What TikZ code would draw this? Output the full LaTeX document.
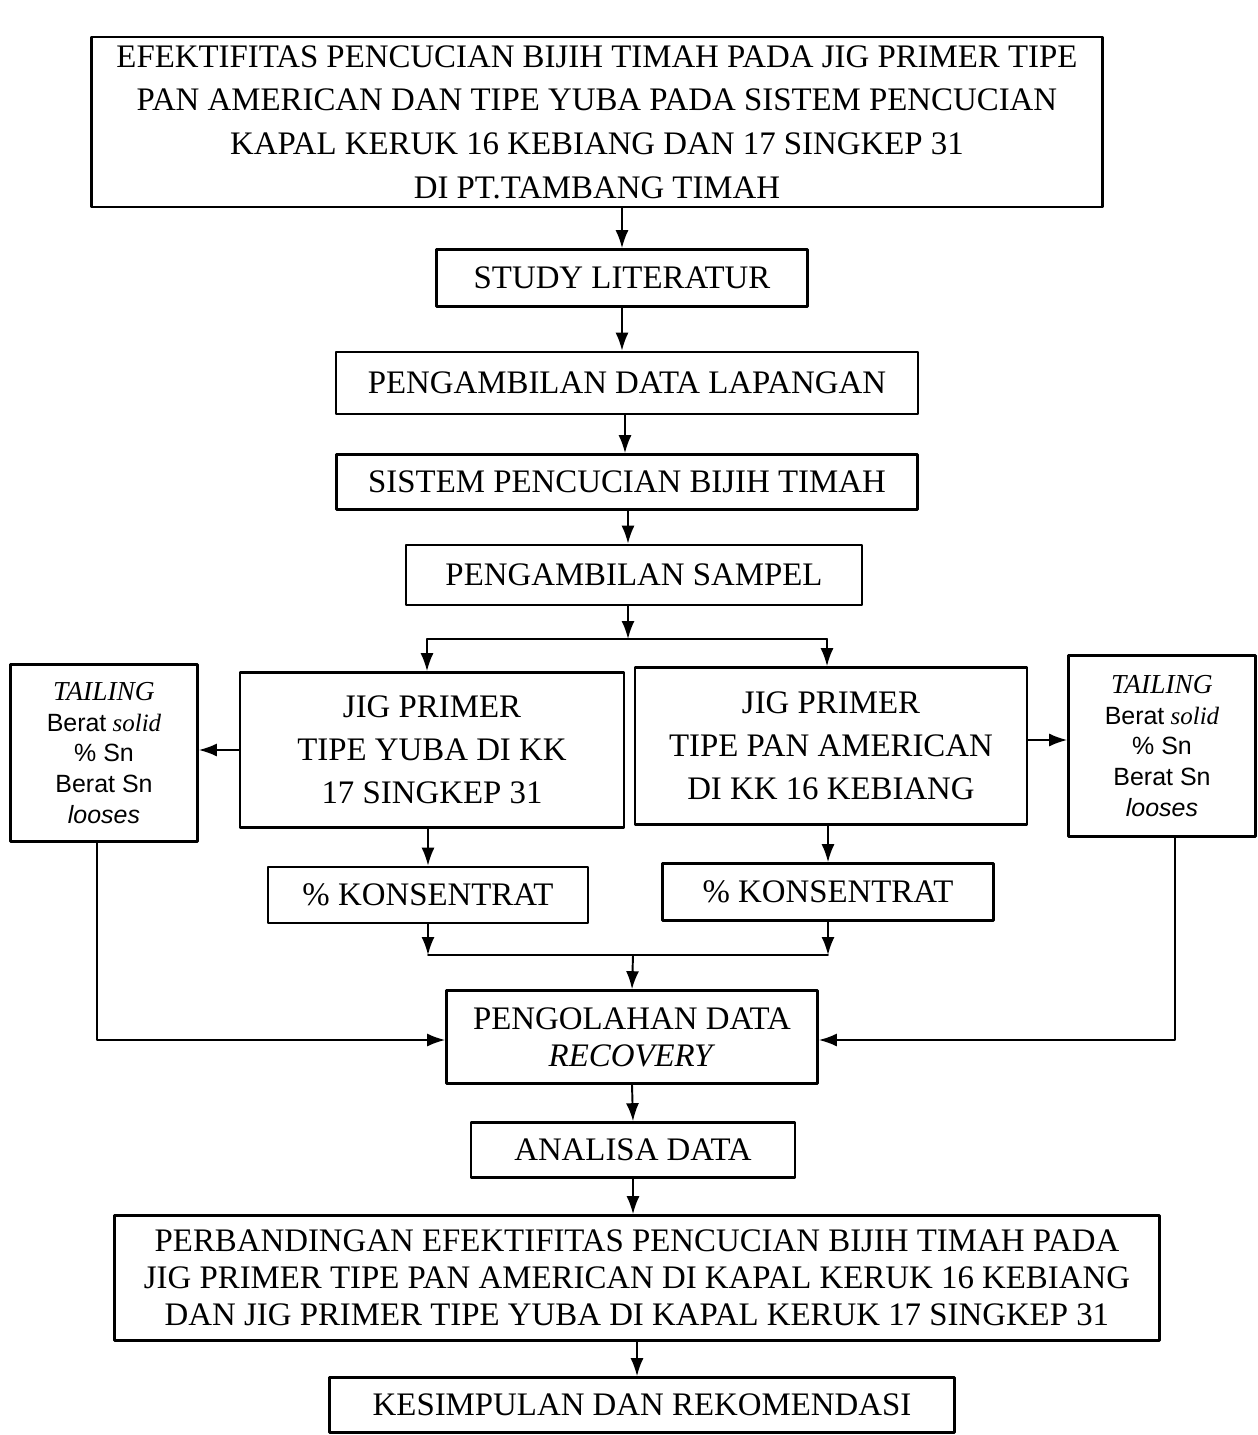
\documentclass[tikz,border=0pt]{standalone}
\usepackage{fontspec}
\setmainfont{Liberation Serif}
\newfontfamily\arialfont{Liberation Sans}
\usetikzlibrary{arrows.meta}

\begin{document}
\begin{tikzpicture}[line cap=round,line join=round,
  box/.style={draw,line width=1.5pt,align=center,inner sep=0pt,font=\fontsize{18.7}{21}\selectfont},
  tailbox/.style={draw,line width=1.5pt,align=center,inner sep=0pt,minimum width=3.74cm,font=\fontsize{14.2}{17.6}\selectfont},
  arr/.style={line width=1.1pt,-{Latex[length=0.36cm,width=0.26cm]}},
  ln/.style={line width=1.1pt}]
  \useasboundingbox (0,0) rectangle (25.14,-28.7);
  \node[box,minimum width=20.22cm,minimum height=3.4cm,font=\fontsize{18.7}{24.9}\selectfont] (judul) at (11.94,-2.44)
    {EFEKTIFITAS PENCUCIAN BIJIH TIMAH PADA JIG PRIMER TIPE\\PAN AMERICAN DAN TIPE YUBA PADA SISTEM PENCUCIAN\\KAPAL KERUK 16 KEBIANG DAN 17 SINGKEP 31\\DI PT.TAMBANG TIMAH};
  \node[box,minimum width=7.42cm,minimum height=1.14cm] (studi) at (12.44,-5.56) {STUDY LITERATUR};
  \node[box,minimum width=11.64cm,minimum height=1.24cm] (lapangan) at (12.54,-7.66) {PENGAMBILAN DATA LAPANGAN};
  \node[box,minimum width=11.62cm,minimum height=1.1cm] (sistem) at (12.54,-9.64) {SISTEM PENCUCIAN BIJIH TIMAH};
  \node[box,minimum width=9.12cm,minimum height=1.2cm] (sampel) at (12.68,-11.5) {PENGAMBILAN SAMPEL};
  \node[box,minimum width=7.68cm,minimum height=3.1cm,font=\fontsize{18.7}{24.4}\selectfont] (yuba) at (8.64,-15.0)
    {JIG PRIMER\\TIPE YUBA DI KK\\17 SINGKEP 31};
  \node[box,minimum width=7.84cm,minimum height=3.14cm,font=\fontsize{18.7}{24.4}\selectfont] (panam) at (16.62,-14.92)
    {JIG PRIMER\\TIPE PAN AMERICAN\\DI KK 16 KEBIANG};
  \node[tailbox,minimum height=3.54cm] (tailkiri) at (2.08,-15.06)
    {{\fontsize{15.6}{17.6}\selectfont\textit{TAILING}}\\{\arialfont Berat} \textit{solid}\\{\arialfont \% Sn}\\{\arialfont Berat Sn}\\{\arialfont\itshape looses}};
  \node[tailbox,minimum height=3.62cm] (tailkanan) at (23.24,-14.92)
    {{\fontsize{15.6}{17.6}\selectfont\textit{TAILING}}\\{\arialfont Berat} \textit{solid}\\{\arialfont \% Sn}\\{\arialfont Berat Sn}\\{\arialfont\itshape looses}};
  \node[box,minimum width=6.4cm,minimum height=1.12cm] (konskiri) at (8.56,-17.9) {\% KONSENTRAT};
  \node[box,minimum width=6.62cm,minimum height=1.14cm] (konskanan) at (16.56,-17.84) {\% KONSENTRAT};
  \node[box,minimum width=7.42cm,minimum height=1.86cm] (olah) at (12.64,-20.74) {PENGOLAHAN DATA\\\textit{RECOVERY}};
  \node[box,minimum width=6.48cm,minimum height=1.1cm] (analisa) at (12.66,-23.0) {ANALISA DATA};
  \node[box,minimum width=20.9cm,minimum height=2.5cm] (banding) at (12.74,-25.56)
    {PERBANDINGAN EFEKTIFITAS PENCUCIAN BIJIH TIMAH PADA\\JIG PRIMER TIPE PAN AMERICAN DI KAPAL KERUK 16 KEBIANG\\DAN JIG PRIMER TIPE YUBA DI KAPAL KERUK 17 SINGKEP 31};
  \node[box,minimum width=12.5cm,minimum height=1.1cm] (simpul) at (12.84,-28.1) {KESIMPULAN DAN REKOMENDASI};
  \coordinate (cabang) at (12.56,-12.78);
  \coordinate (gabung) at (12.66,-19.1);
  \draw[arr] (judul.south -| studi.north) -- (studi.north);
  \draw[arr] (studi.south) -- (studi.south |- lapangan.north);
  \draw[arr] (lapangan.south -| 12.5,0) -- (sistem.north -| 12.5,0);
  \draw[arr] (sistem.south -| cabang) -- (sampel.north -| cabang);
  \draw[arr] (sampel.south -| cabang) -- (cabang);
  \draw[ln] (cabang -| 8.54,0) -- (cabang -| 16.54,0);
  \draw[arr] (cabang -| 8.54,0) -- (yuba.north -| 8.54,0);
  \draw[arr] (cabang -| 16.54,0) -- (panam.north -| 16.54,0);
  \draw[arr] (yuba.west) -- (yuba.west -| tailkiri.east);
  \draw[arr] ([yshift=0.12cm]panam.east) -- ([yshift=0.12cm]panam.east -| tailkanan.west);
  \draw[arr] (yuba.south -| konskiri) -- (konskiri.north);
  \draw[arr] (panam.south -| konskanan) -- (konskanan.north);
  \draw[arr] (konskiri.south) -- (konskiri.south |- gabung);
  \draw[arr] (konskanan.south) -- (konskanan.south |- gabung);
  \draw[ln] (konskiri.south |- gabung) -- (konskanan.south |- gabung);
  \draw[arr] (gabung) -- (olah.north);
  \draw[arr] ([xshift=-0.14cm]tailkiri.south) |- ([yshift=-0.06cm]olah.west);
  \draw[arr] ([xshift=0.26cm]tailkanan.south) |- ([yshift=-0.06cm]olah.east);
  \draw[arr] (olah.south) -- (analisa.north);
  \draw[arr] (analisa.south) -- (analisa.south |- banding.north);
  \draw[arr] (banding.south) -- (banding.south |- simpul.north);
\end{tikzpicture}
\end{document}
